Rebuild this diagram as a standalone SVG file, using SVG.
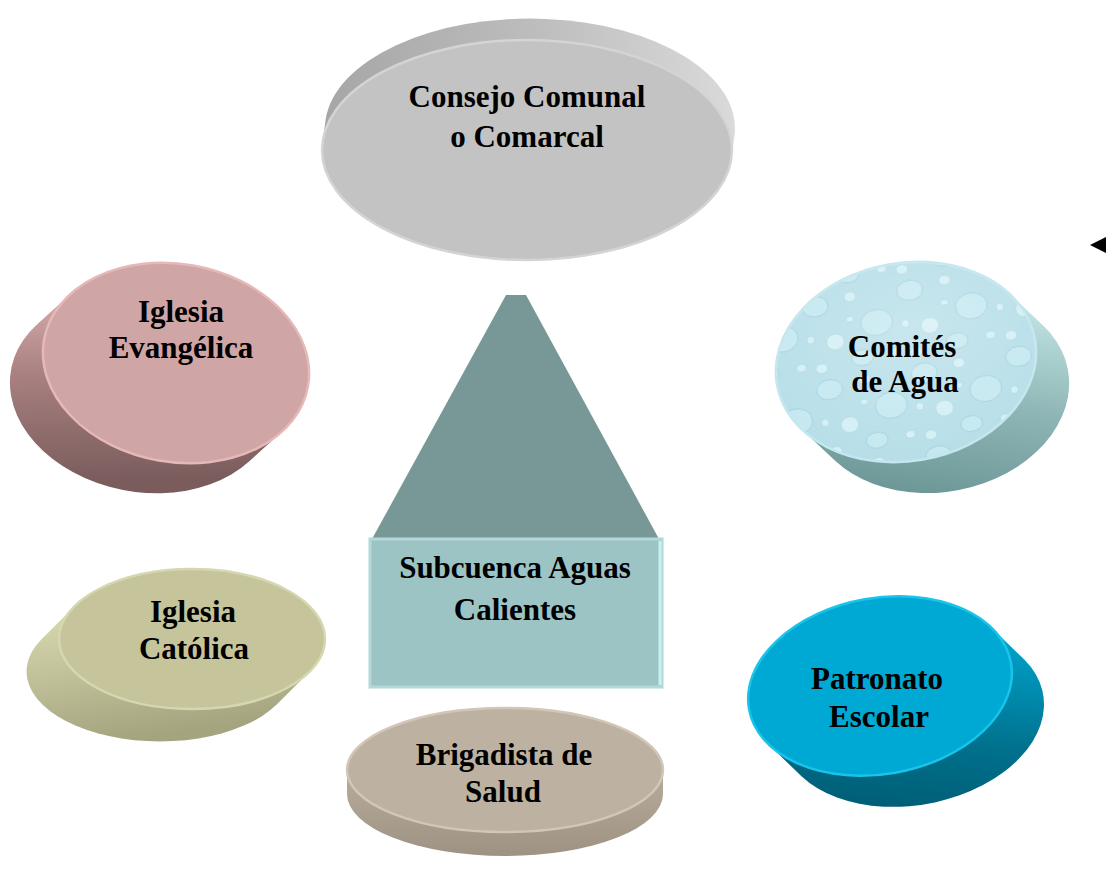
<svg xmlns="http://www.w3.org/2000/svg" width="1106" height="877" viewBox="0 0 1106 877">
<style>
  .lbl { font-family: "Liberation Serif", "Times New Roman", serif; font-weight: bold; font-size: 31px; fill: #000; text-anchor: middle; }
  .face { stroke-width: 2.5; }
  .bub { fill: #c4e8f0; stroke: #a2d0dc; stroke-width: 1; }
  .bubL { fill: #d2eff5; stroke: #a8d4de; stroke-width: 0.8; }
</style>
<defs>
  <linearGradient id="gSideGray" x1="0" y1="0" x2="1" y2="0">
    <stop offset="0" stop-color="#a6a6a6"/>
    <stop offset="0.5" stop-color="#bcbcbc"/>
    <stop offset="1" stop-color="#dadada"/>
  </linearGradient>
  <linearGradient id="gSideRose" x1="0" y1="0" x2="0.3" y2="1">
    <stop offset="0" stop-color="#dcb0b0"/>
    <stop offset="0.45" stop-color="#a88080"/>
    <stop offset="1" stop-color="#7a5c5c"/>
  </linearGradient>
  <linearGradient id="gSideWater" x1="0.8" y1="0" x2="0.3" y2="1">
    <stop offset="0" stop-color="#c4e6e6"/>
    <stop offset="0.5" stop-color="#8fb6b6"/>
    <stop offset="1" stop-color="#6a9494"/>
  </linearGradient>
  <linearGradient id="gSideOlive" x1="0" y1="0" x2="0.3" y2="1">
    <stop offset="0" stop-color="#dcdcb4"/>
    <stop offset="1" stop-color="#a4a47e"/>
  </linearGradient>
  <linearGradient id="gSideTan" x1="0" y1="0" x2="0" y2="1">
    <stop offset="0" stop-color="#b8ac9c"/>
    <stop offset="1" stop-color="#9e9282"/>
  </linearGradient>
  <linearGradient id="gSideBlue" x1="0.8" y1="0" x2="0.3" y2="1">
    <stop offset="0" stop-color="#00a4cc"/>
    <stop offset="0.6" stop-color="#00708c"/>
    <stop offset="1" stop-color="#005c74"/>
  </linearGradient>
  <pattern id="bubbles" width="96" height="84" patternUnits="userSpaceOnUse">
    <rect width="96" height="84" fill="#b6dee8"/>
    <ellipse class="bub" cx="16" cy="14" rx="13" ry="10"/>
    <ellipse class="bubL" cx="52" cy="10" rx="6" ry="5"/>
    <ellipse class="bub" cx="74" cy="40" rx="16" ry="13"/>
    <ellipse class="bubL" cx="30" cy="52" rx="9" ry="8"/>
    <ellipse class="bubL" cx="6" cy="46" rx="4" ry="4"/>
    <ellipse class="bubL" cx="48" cy="32" rx="4" ry="3"/>
    <ellipse class="bub" cx="54" cy="72" rx="11" ry="8"/>
    <ellipse class="bubL" cx="88" cy="72" rx="5" ry="4"/>
    <ellipse class="bubL" cx="12" cy="76" rx="6" ry="5"/>
  </pattern>
  <radialGradient id="gSheen" cx="0.55" cy="0.35" r="0.7">
    <stop offset="0" stop-color="#ffffff" stop-opacity="0.25"/>
    <stop offset="1" stop-color="#ffffff" stop-opacity="0"/>
  </radialGradient>
</defs>

<g id="connectors">
  <polygon points="1090,245 1106,237 1106,253" fill="#000"/>
</g>

<g id="node-consejo">
  <path d="M731.45,158.03 L734.45,136.03 A205,110 0 0 0 325.55,119.97 L322.55,141.97 Z" fill="url(#gSideGray)"/>
  <ellipse class="face" cx="527" cy="150" rx="205" ry="110" fill="#c3c3c3" stroke="#d4d4d4"/>
  <text class="lbl" x="527" y="107">Consejo Comunal</text>
  <text class="lbl" x="527" y="147">o Comarcal</text>
</g>

<g id="node-evangelica">
  <g transform="translate(176,363) rotate(10)">
    <path d="M116.34,49.13 L89.05,84.40 A134,99 0 0 1 -143.63,-13.86 L-116.34,-49.13 Z" fill="url(#gSideRose)"/>
    <ellipse class="face" cx="0" cy="0" rx="134" ry="99" fill="#d0a5a5" stroke="#e6b8b8"/>
  </g>
  <text class="lbl" x="181" y="322">Iglesia</text>
  <text class="lbl" x="181" y="358">Evangélica</text>
</g>

<g id="node-comites">
  <g transform="translate(906,362) rotate(-10)">
    <path d="M114.05,-48.71 L141.17,-12.45 A131,99 0 0 1 -86.93,84.97 L-114.05,48.71 Z" fill="url(#gSideWater)"/>
    <ellipse class="face" cx="0" cy="0" rx="131" ry="99" fill="url(#bubbles)" stroke="#c4e6ee"/>
    <ellipse cx="0" cy="0" rx="131" ry="99" fill="url(#gSheen)"/>
  </g>
  <text class="lbl" x="902" y="357">Comités</text>
  <text class="lbl" x="905" y="392">de Agua</text>
</g>

<g id="node-catolica">
  <path d="M309.69,671.60 L276.69,704.60 A133,70 0 0 1 41.31,639.40 L74.31,606.40 Z" fill="url(#gSideOlive)"/>
  <ellipse class="face" cx="192" cy="639" rx="133" ry="70" fill="#c5c49b" stroke="#d6d6b0"/>
  <text class="lbl" x="193" y="622">Iglesia</text>
  <text class="lbl" x="194" y="659">Católica</text>
</g>

<g id="node-brigadista">
  <path d="M663,770 L663,794 A158,62 0 0 1 347,794 L347,770 Z" fill="url(#gSideTan)"/>
  <ellipse class="face" cx="505" cy="770" rx="158" ry="62" fill="#bdb1a1" stroke="#d2c6b6"/>
  <text class="lbl" x="504" y="765">Brigadista de</text>
  <text class="lbl" x="503" y="802">Salud</text>
</g>

<g id="node-patronato">
  <g transform="translate(880,686) rotate(-10)">
    <path d="M119.95,-38 L146.89,-0.76 A133,88 0 0 1 -93.01,75.24 L-119.95,38 Z" fill="url(#gSideBlue)"/>
    <ellipse class="face" cx="0" cy="0" rx="133" ry="88" fill="#00a8d4" stroke="#18c4ea"/>
  </g>
  <text class="lbl" x="877" y="689">Patronato</text>
  <text class="lbl" x="879" y="727">Escolar</text>
</g>

<g id="node-subcuenca">
  <polygon points="506,295 526,295 659,539 372,539" fill="#789898"/>
  <rect x="370" y="539" width="292" height="148" fill="#9cc4c4" stroke="#b2d8d8" stroke-width="3"/>
  <line x1="660" y1="541" x2="660" y2="685" stroke="#c6f2f2" stroke-width="3"/>
  <text class="lbl" x="515" y="578">Subcuenca Aguas</text>
  <text class="lbl" x="515" y="620">Calientes</text>
</g>
</svg>
